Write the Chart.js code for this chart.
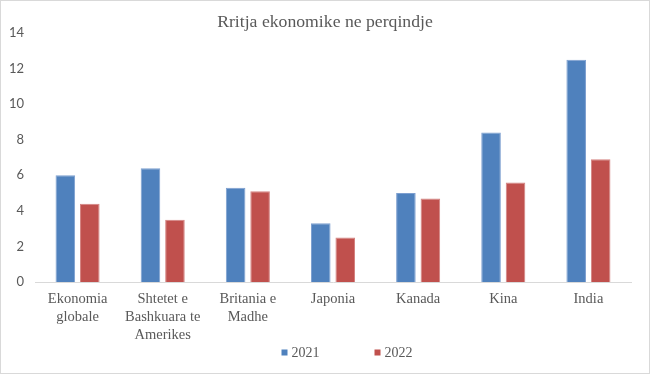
<!DOCTYPE html>
<html>
<head>
<meta charset="utf-8">
<script src="https://cdn.jsdelivr.net/npm/chart.js@4.4.1/dist/chart.umd.min.js"></script>
<style>
  body { margin: 0; background: #fff; }
  #wrap { width: 650px; height: 374px; position: relative; }
</style>
</head>
<body>
<div id="wrap"><canvas id="grafiku"></canvas></div>
<script>
const kategorite = [
    ['Ekonomia', 'globale'],
    ['Shtetet e', 'Bashkuara te', 'Amerikes'],
    ['Britania e', 'Madhe'],
    'Japonia',
    'Kanada',
    'Kina',
    'India'
];
const vlerat2021 = [6.0, 6.4, 5.3, 3.3, 5.0, 8.4, 12.5];
const vlerat2022 = [4.4, 3.5, 5.1, 2.5, 4.7, 5.6, 6.9];

const ngjyraTekst = '#595959';
const fonti = "'Liberation Serif', 'Times New Roman', serif";
const fontiNumrave = "Lato, 'Liberation Sans', sans-serif";

// sfondi i bardhe dhe korniza gri rreth grafikut
const kornizaPlugin = {
    id: 'korniza',
    beforeDraw(chart) {
        const ctx = chart.ctx;
        ctx.save();
        ctx.fillStyle = '#ffffff';
        ctx.fillRect(0, 0, chart.width, chart.height);
        ctx.strokeStyle = '#d9d9d9';
        ctx.lineWidth = 1;
        ctx.strokeRect(0.5, 0.5, chart.width - 1, chart.height - 1);
        ctx.restore();
    }
};

// legjenda poshte, me katrore te vegjel si ne Excel
const legjendaPlugin = {
    id: 'legjenda',
    afterDraw(chart) {
        const ctx = chart.ctx;
        const kuti = 6, hapesira = 4, ndarja = 55;
        ctx.save();
        ctx.font = '14px ' + fonti;
        ctx.textBaseline = 'middle';
        const sets = chart.data.datasets;
        let total = 0;
        sets.forEach((ds, i) => {
            total += kuti + hapesira + ctx.measureText(ds.label).width;
            if (i > 0) total += ndarja;
        });
        let x = chart.width / 2 + 22 - total / 2;
        const y = 352.5;
        sets.forEach((ds) => {
            ctx.fillStyle = ds.backgroundColor;
            ctx.fillRect(x, y - kuti / 2, kuti, kuti);
            x += kuti + hapesira;
            ctx.fillStyle = ngjyraTekst;
            ctx.fillText(ds.label, x, y + 1);
            x += ctx.measureText(ds.label).width + ndarja;
        });
        ctx.restore();
    }
};

document.addEventListener('DOMContentLoaded', function () {
    const ctx = document.getElementById('grafiku').getContext('2d');
    new Chart(ctx, {
        type: 'bar',
        data: {
            labels: kategorite,
            datasets: [{
                label: '2021',
                data: vlerat2021,
                backgroundColor: '#4F81BD',
                borderColor: '#7d9fd0',
                borderWidth: 1,
                categoryPercentage: 0.575,
                barPercentage: 0.8
            },
            {
                label: '2022',
                data: vlerat2022,
                backgroundColor: '#C0504D',
                borderColor: '#d48381',
                borderWidth: 1,
                categoryPercentage: 0.575,
                barPercentage: 0.8
            }]
        },
        options: {
            responsive: true,
            maintainAspectRatio: false,
            animation: false,
            layout: {
                padding: 0
            },
            scales: {
                x: {
                    afterFit: function (scale) { scale.height = 92; },
                    grid: { display: false, drawTicks: false },
                    border: { display: true, color: '#d9d9d9', width: 1 },
                    ticks: {
                        color: ngjyraTekst,
                        font: { family: fonti, size: 14.5, lineHeight: 1.22 },
                        padding: 8.5,
                        maxRotation: 0,
                        autoSkip: false
                    }
                },
                y: {
                    min: 0,
                    max: 14,
                    afterFit: function (scale) { scale.width = 35; },
                    grid: { display: false, drawTicks: false },
                    border: { display: false },
                    ticks: {
                        stepSize: 2,
                        color: ngjyraTekst,
                        font: { family: fontiNumrave, size: 13 },
                        padding: 11
                    }
                },
                // bosht bosh djathtas vetem per hapesiren
                y2: {
                    position: 'right',
                    afterFit: function (scale) { scale.width = 19; },
                    grid: { display: false, drawTicks: false },
                    border: { display: false },
                    ticks: { display: false }
                }
            },
            plugins: {
                title: {
                    display: true,
                    text: 'Rritja ekonomike ne perqindje',
                    color: ngjyraTekst,
                    font: { family: fonti, size: 17.7, weight: 'normal', lineHeight: 1.0 },
                    padding: { top: 14, bottom: 1.3 }
                },
                legend: { display: false },
                tooltip: { enabled: false }
            }
        },
        plugins: [kornizaPlugin, legjendaPlugin]
    });
});
</script>
</body>
</html>
